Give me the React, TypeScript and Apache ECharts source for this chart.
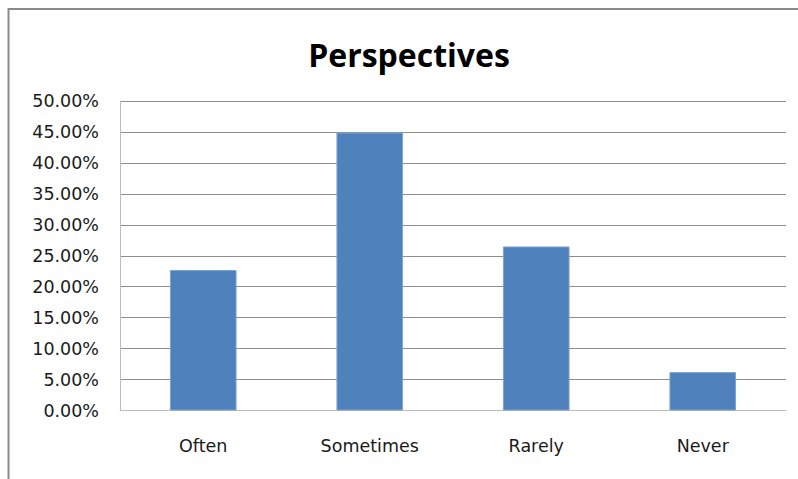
import React, { useEffect, useRef } from "react";
import * as echarts from "echarts";

const categories = ["Often", "Sometimes", "Rarely", "Never"];
const values = [22.7, 44.9, 26.5, 6.2];
const chartTitle = "Perspectives";
const yMin = 0;
const yMax = 50;
const yStep = 5;

export default function App() {
  const ref = useRef<HTMLDivElement>(null);
  useEffect(() => {
    document.body.style.margin = "0";
    if (!ref.current) return;
    const chart = echarts.init(ref.current, null, { renderer: "svg" });
    chart.setOption({
      animation: false,
      backgroundColor: "#ffffff",
      grid: { left: 120, right: 12, top: 101, bottom: 68.5 },
      graphic: [
        {
          type: "polyline",
          shape: { points: [[8.5, 479], [8.5, 9], [798, 9]] },
          style: { stroke: "#8a8a8a", lineWidth: 2, fill: null },
          silent: true,
        },
        {
          type: "text",
          x: 409,
          y: 54,
          style: {
            text: chartTitle,
            fontFamily: "Open Sans",
            fontWeight: "bold",
            fontSize: 32,
            fill: "#000000",
            align: "center",
            verticalAlign: "middle",
          },
        },
      ],
      xAxis: {
        type: "category",
        data: categories,
        axisLine: { show: true, lineStyle: { color: "#bcbcbc", width: 1 } },
        axisTick: { show: false },
        axisLabel: {
          color: "#1a1a1a",
          fontFamily: "DejaVu Sans",
          fontSize: 17.5,
          margin: 26,
        },
      },
      yAxis: {
        type: "value",
        min: yMin,
        max: yMax,
        interval: yStep,
        axisLine: { show: true, lineStyle: { color: "#bcbcbc", width: 1 } },
        axisTick: { show: false },
        splitLine: { show: true, lineStyle: { color: "#8e8e8e", width: 1 } },
        axisLabel: {
          color: "#1a1a1a",
          fontFamily: "DejaVu Sans",
          fontSize: 17.5,
          margin: 21,
          formatter: (v: number) => v.toFixed(2) + "%",
        },
      },
      series: [
        {
          type: "bar",
          data: values,
          barWidth: "40%",
          itemStyle: { color: "#4f81bd", borderColor: "#7fa3cf", borderWidth: 1 },
        },
      ],
    });
    return () => chart.dispose();
  }, []);
  return <div ref={ref} style={{ width: 798, height: 479 }} />;
}
